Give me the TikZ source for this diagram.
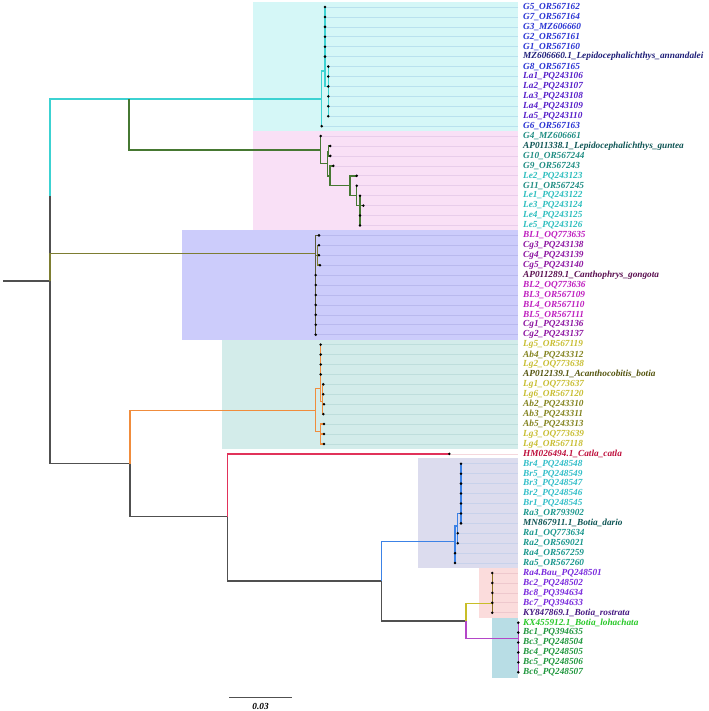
\documentclass[tikz,border=0pt]{standalone}
\usepackage{fontspec}
\setmainfont{Liberation Serif}
\usetikzlibrary{positioning}

% label colours
\definecolor{cA}{RGB}{40,50,210}
\definecolor{cAd}{RGB}{30,30,120}
\definecolor{cAv}{RGB}{85,30,200}
\definecolor{cB}{RGB}{30,140,130}
\definecolor{cBd}{RGB}{15,85,85}
\definecolor{cBl}{RGB}{45,190,190}
\definecolor{cC}{RGB}{190,30,190}
\definecolor{cCp}{RGB}{140,20,160}
\definecolor{cCd}{RGB}{90,15,80}
\definecolor{cD}{RGB}{130,130,30}
\definecolor{cDy}{RGB}{200,190,50}
\definecolor{cDd}{RGB}{85,85,15}
\definecolor{cE}{RGB}{190,15,60}
\definecolor{cF}{RGB}{25,150,140}
\definecolor{cFl}{RGB}{50,190,200}
\definecolor{cFd}{RGB}{15,85,85}
\definecolor{cG}{RGB}{120,40,220}
\definecolor{cGd}{RGB}{70,25,130}
\definecolor{cH}{RGB}{30,150,60}
\definecolor{cHl}{RGB}{40,200,40}
% branch colours
\definecolor{brGrey}{RGB}{80,80,80}
\definecolor{brCyan}{RGB}{60,210,210}
\definecolor{brGreen}{RGB}{70,120,50}
\definecolor{brOlive}{RGB}{125,125,50}
\definecolor{brOliveD}{RGB}{90,90,60}
\definecolor{brOrange}{RGB}{240,140,60}
\definecolor{brRed}{RGB}{225,50,90}
\definecolor{brBlue}{RGB}{60,130,230}
\definecolor{brYellow}{RGB}{200,190,40}
\definecolor{brGold}{RGB}{140,115,30}
\definecolor{brMag}{RGB}{180,70,200}
% clade boxes and guide lines
\definecolor{fA}{RGB}{213,247,247}\definecolor{gA}{RGB}{185,225,238}
\definecolor{fB}{RGB}{249,224,246}\definecolor{gB}{RGB}{232,205,235}
\definecolor{fC}{RGB}{204,204,251}\definecolor{gC}{RGB}{185,185,238}
\definecolor{fD}{RGB}{211,236,234}\definecolor{gD}{RGB}{190,222,220}
\definecolor{fF}{RGB}{220,220,238}\definecolor{gF}{RGB}{200,210,235}
\definecolor{fG}{RGB}{251,220,220}\definecolor{gG}{RGB}{238,200,205}
\definecolor{fH}{RGB}{184,221,229}
\definecolor{gE}{RGB}{245,215,220}

\begin{document}
\begin{tikzpicture}[
    x=0.025cm, y=-0.025cm,
    br/.style={line width=1.1pt},
    guide/.style={line width=0.45pt},
    lab/.style={anchor=west, inner xsep=3.5pt, inner ysep=0pt, font=\fontsize{6.6}{7}\selectfont\bfseries\itshape},
    sbl/.style={inner sep=0pt, font=\fontsize{6.6}{7}\selectfont\bfseries\itshape}
]
\useasboundingbox (0,0) rectangle (709,711);

% clade boxes
\fill[fA] (253,1.7) rectangle (518,131);
\fill[fB] (253,131) rectangle (518,230);
\fill[fC] (182.3,230) rectangle (518,339.5);
\fill[fD] (222.3,339.5) rectangle (518,449);
\fill[fF] (418.3,458.3) rectangle (518,567.7);
\fill[fG] (479.3,567.7) rectangle (518,617.5);
\fill[fH] (492.3,617.5) rectangle (518,677.5);

% tips and labels
\foreach \r/\x/\c/\t in {
    0/325/cA/G5\_OR567162, 1/325/cA/G7\_OR567164, 2/325/cA/G3\_MZ606660,
    3/325/cA/G2\_OR567161, 4/325/cA/G1\_OR567160,
    5/325/cAd/MZ606660.1\_Lepidocephalichthys\_annandalei,
    6/328.3/cA/G8\_OR567165, 7/328.3/cAv/La1\_PQ243106, 8/328.3/cAv/La2\_PQ243107,
    9/328.3/cAv/La3\_PQ243108, 10/328.3/cAv/La4\_PQ243109, 11/328.3/cAv/La5\_PQ243110,
    12/321.7/cA/G6\_OR567163,
    13/320.7/cB/G4\_MZ606661,
    14/330.3/cBd/AP011338.1\_Lepidocephalichthys\_guntea,
    15/330.3/cB/G10\_OR567244, 16/333.3/cB/G9\_OR567243, 17/356.7/cBl/Le2\_PQ243123,
    18/356.7/cB/G11\_OR567245, 19/360/cBl/Le1\_PQ243122, 20/363.3/cBl/Le3\_PQ243124,
    21/360/cBl/Le4\_PQ243125, 22/360/cBl/Le5\_PQ243126,
    23/319/cC/BL1\_OQ773635, 24/319/cCp/Cg3\_PQ243138, 25/319/cCp/Cg4\_PQ243139,
    26/320/cCp/Cg5\_PQ243140, 27/315.7/cCd/AP011289.1\_Canthophrys\_gongota,
    28/315.7/cC/BL2\_OQ773636, 29/315.7/cC/BL3\_OR567109, 30/315.7/cC/BL4\_OR567110,
    31/315.7/cC/BL5\_OR567111, 32/315.7/cCp/Cg1\_PQ243136, 33/315.7/cCp/Cg2\_PQ243137,
    34/320.7/cDy/Lg5\_OR567119, 35/320.7/cD/Ab4\_PQ243312, 36/320.7/cDy/Lg2\_OQ773638,
    37/320.7/cDd/AP012139.1\_Acanthocobitis\_botia,
    38/323.3/cDy/Lg1\_OQ773637, 39/323.3/cDy/Lg6\_OR567120, 40/324/cD/Ab2\_PQ243310,
    41/323.3/cD/Ab3\_PQ243311, 42/324/cD/Ab5\_PQ243313, 43/324/cDy/Lg3\_OQ773639,
    44/324/cDy/Lg4\_OR567118,
    45/449.3/cE/HM026494.1\_Catla\_catla,
    46/461/cFl/Br4\_PQ248548, 47/461/cFl/Br5\_PQ248549, 48/461/cFl/Br3\_PQ248547,
    49/461/cFl/Br2\_PQ248546, 50/461/cFl/Br1\_PQ248545, 51/461/cF/Ra3\_OR793902,
    52/461/cFd/MN867911.1\_Botia\_dario, 53/457.7/cF/Ra1\_OQ773634,
    54/457.7/cF/Ra2\_OR569021, 55/455/cF/Ra4\_OR567259, 56/455/cF/Ra5\_OR567260,
    57/492.3/cG/Ra4.Bau\_PQ248501, 58/492.3/cG/Bc2\_PQ248502, 59/492.3/cG/Bc8\_PQ394634,
    60/492.3/cG/Bc7\_PQ394633, 61/492.3/cGd/KY847869.1\_Botia\_rostrata,
    62/518.3/cHl/KX455912.1\_Botia\_lohachata, 63/518.3/cH/Bc1\_PQ394635,
    64/518.3/cH/Bc3\_PQ248504, 65/518.3/cH/Bc4\_PQ248505, 66/518.3/cH/Bc5\_PQ248506,
    67/518.3/cH/Bc6\_PQ248507}{
  \coordinate (t\r) at (\x,{7+9.93*\r});
  \node[lab, text=\c] (l\r) at (518,{7+9.93*\r}) {\t};
}

% guide lines
\foreach \r in {0,...,12} \draw[guide, gA] (t\r) -- (l\r);
\foreach \r in {13,...,22} \draw[guide, gB] (t\r) -- (l\r);
\foreach \r in {23,...,33} \draw[guide, gC] (t\r) -- (l\r);
\foreach \r in {34,...,44} \draw[guide, gD] (t\r) -- (l\r);
\draw[guide, gE] (t45) -- (l45);
\foreach \r in {46,...,56} \draw[guide, gF] (t\r) -- (l\r);
\foreach \r in {57,...,61} \draw[guide, gG] (t\r) -- (l\r);

% internal nodes
\coordinate (rs) at (3,281);
\coordinate (rt) at (50,281);
\coordinate (J) at (50,196);
\coordinate (K) at (129,99);
\coordinate (A) at (321.7,99);
\coordinate (B) at (325,71);
\coordinate (C) at (328.3,86.7);
\coordinate (P0) at (320.7,150);
\coordinate (P1) at (327.3,163.3);
\coordinate (P2) at (328.5,151.7);
\coordinate (P3) at (330,176);
\coordinate (P4) at (350,185.5);
\coordinate (P5) at (356.7,195.7);
\coordinate (P6) at (360,205.7);
\coordinate (Q) at (315.7,253.3);
\coordinate (Q1) at (317.5,255.5);
\coordinate (S) at (130,463.5);
\coordinate (R) at (315.7,410.7);
\coordinate (R1) at (320.7,388.3);
\coordinate (R2) at (322.5,401.7);
\coordinate (R3) at (320.7,431.7);
\coordinate (T) at (227.3,516.7);
\coordinate (U) at (381.7,581);
\coordinate (V) at (455,541.7);
\coordinate (V1) at (457.7,526);
\coordinate (V2) at (461,513.3);
\coordinate (W) at (466,621);
\coordinate (X) at (492.3,603.3);
\coordinate (Y) at (518.3,638.5);

% backbone
\draw[br, brGrey] (rs) -- (rt);
\draw[br, brGrey] (J) -- (rt);
\draw[br, brCyan] (J) |- (K);
\draw[br, brOlive] (rt) |- (Q);
\draw[br, brGrey] (rt) |- (S);
\draw[br, brCyan] (K) -- (A);
\draw[br, brGreen] (K) |- (P0);
\draw[br, brOrange] (S) |- (R);
\draw[br, brGrey] (S) |- (T);
\draw[br, brRed] (T) |- (t45);
\draw[br, brGrey] (T) |- (U);
\draw[br, brBlue] (U) |- (V);
\draw[br, brGrey] (U) |- (W);
\draw[br, brYellow] (W) |- (X);
\draw[br, brMag] (W) |- (Y);

% cyan clade
\draw[br, brCyan] (A) |- (B);
\draw[br, brCyan] (A) |- (t12);
\foreach \r in {0,...,5} \draw[br, brCyan] (B) |- (t\r);
\draw[br, brCyan] (B) |- (C);
\foreach \r in {6,...,11} \draw[br, brCyan] (C) |- (t\r);

% pink clade
\draw[br, brGreen] (P0) |- (t13);
\draw[br, brGreen] (P0) |- (P1);
\draw[br, brGreen] (P1) |- (P2);
\draw[br, brGreen] (P1) |- (P3);
\draw[br, brGreen] (P2) |- (t14);
\draw[br, brGreen] (P2) |- (t15);
\draw[br, brGreen] (P3) |- (t16);
\draw[br, brGreen] (P3) |- (P4);
\draw[br, brGreen] (P4) |- (t17);
\draw[br, brGreen] (P4) |- (P5);
\draw[br, brGreen] (P5) |- (t18);
\draw[br, brGreen] (P5) |- (P6);
\foreach \r in {19,...,22} \draw[br, brGreen] (P6) |- (t\r);

% purple clade
\draw[br, brOliveD] (Q) |- (t23);
\draw[br, brOlive] (Q) |- (Q1);
\foreach \r in {24,25,26} \draw[br, brOlive] (Q1) |- (t\r);
\foreach \r in {27,...,33} \draw[br, brOliveD] (Q) |- (t\r);

% teal clade
\draw[br, brOrange] (R) |- (R1);
\draw[br, brOrange] (R) |- (R3);
\foreach \r in {34,...,37} \draw[br, brOrange] (R1) |- (t\r);
\draw[br, brOrange] (R1) |- (R2);
\foreach \r in {38,...,41} \draw[br, brOrange] (R2) |- (t\r);
\foreach \r in {42,43,44} \draw[br, brOrange] (R3) |- (t\r);

% Botia clades
\draw[br, brBlue] (V) |- (V1);
\draw[br, brBlue] (V) |- (t55);
\draw[br, brBlue] (V) |- (t56);
\draw[br, brBlue] (V1) |- (V2);
\draw[br, brBlue] (V1) |- (t53);
\draw[br, brBlue] (V1) |- (t54);
\foreach \r in {46,...,52} \draw[br, brBlue] (V2) |- (t\r);
\foreach \r in {57,...,61} \draw[br, brGold] (X) |- (t\r);
\foreach \r in {62,...,67} \draw[br, brMag] (Y) |- (t\r);

% tip dots
\foreach \r in {0,...,67} \fill (t\r) circle (1pt);

% scale bar
\coordinate (sb1) at (229.3,697.3);
\coordinate (sb2) at (292,697.3);
\draw[br, brGrey] (sb1) -- (sb2);
\node[sbl] (sbt) at (260.6,706) {0.03};
\end{tikzpicture}
\end{document}
